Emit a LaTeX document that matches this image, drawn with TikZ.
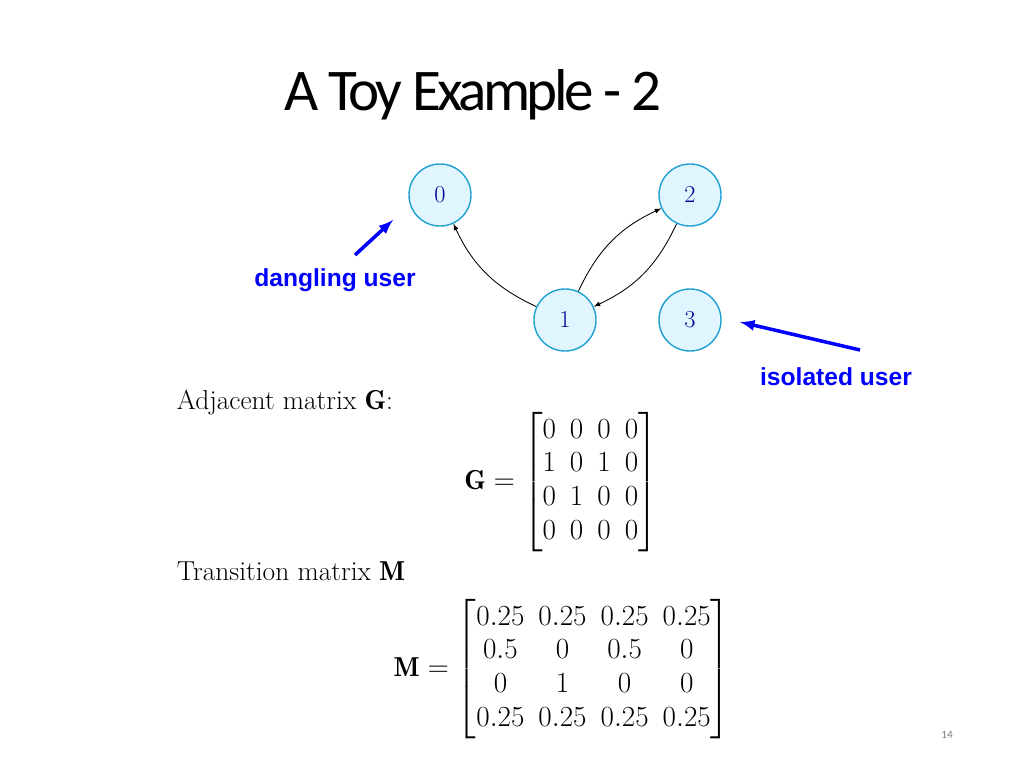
\documentclass[tikz,border=0pt]{standalone}
\usepackage{amsmath}
\usepackage{fontspec}
\newfontfamily\titlefont{Carlito}
\newfontfamily\labelfont{Liberation Sans}
\usetikzlibrary{positioning}
\begin{document}
\begin{tikzpicture}[x=0.025cm,y=-0.025cm,
	vertex/.style={circle, draw=cyan!70!teal, line width=1pt, fill=cyan!12, minimum size=1.55cm, inner sep=0pt, font=\fontsize{17}{19}\selectfont\color{blue!60!black}},
	note/.style={font=\labelfont\bfseries\fontsize{17.5}{19}\selectfont, text=blue},
	body/.style={font=\fontsize{19.5}{24}\selectfont, anchor=west}]
	\useasboundingbox (0,0) rectangle (1024,768);
	\node at (473,95) (title) {\titlefont\fontsize{42}{46}\selectfont\addfontfeature{LetterSpace=-6}A Toy Example - 2};
	
	\node at (440,195) [vertex] (v0) {$0$};
	\node at (690,195) [vertex] (v2) {$2$};
	\node at (565,320) [vertex] (v1) {$1$};
	\node at (690,320) [vertex] (v3) {$3$};
	
	\draw [-latex, semithick] (v1) to[bend left=20] (v0);
	\draw [-latex, semithick] (v1) to[bend left=20] (v2);
	\draw [-latex, semithick] (v2) to[bend left=20] (v1);
	
	\node at (335,280) [note] (dangling) {dangling user};
	\node at (836,377) [note] (isolated) {isolated user};
	\coordinate (d0) at (355,255);
	\coordinate (d1) at (393,220);
	\coordinate (i0) at (860,350);
	\coordinate (i1) at (740,322);
	\draw [-latex, blue, line width=2.5pt] (d0) -- (d1);
	\draw [-latex, blue, line width=2.5pt] (i0) -- (i1);
	
	\node at (172,403) [body] (adj) {Adjacent matrix $\mathbf{G}$:};
	\node at (561,482) [font=\fontsize{19.5}{24}\selectfont] (gmat) {$\mathbf{G}=\begin{bmatrix}0&0&0&0\\1&0&1&0\\0&1&0&0\\0&0&0&0\end{bmatrix}$};
	\node at (172,571) [body] (trans) {Transition matrix $\mathbf{M}$};
	\node at (562,669) [font=\fontsize{19.5}{24}\selectfont] (mmat) {$\mathbf{M}=\begin{bmatrix}0.25&0.25&0.25&0.25\\0.5&0&0.5&0\\0&1&0&0\\0.25&0.25&0.25&0.25\end{bmatrix}$};
	\node at (947,735) [font=\titlefont\fontsize{8}{9}\selectfont, text=gray] (page) {14};
\end{tikzpicture}
\end{document}
